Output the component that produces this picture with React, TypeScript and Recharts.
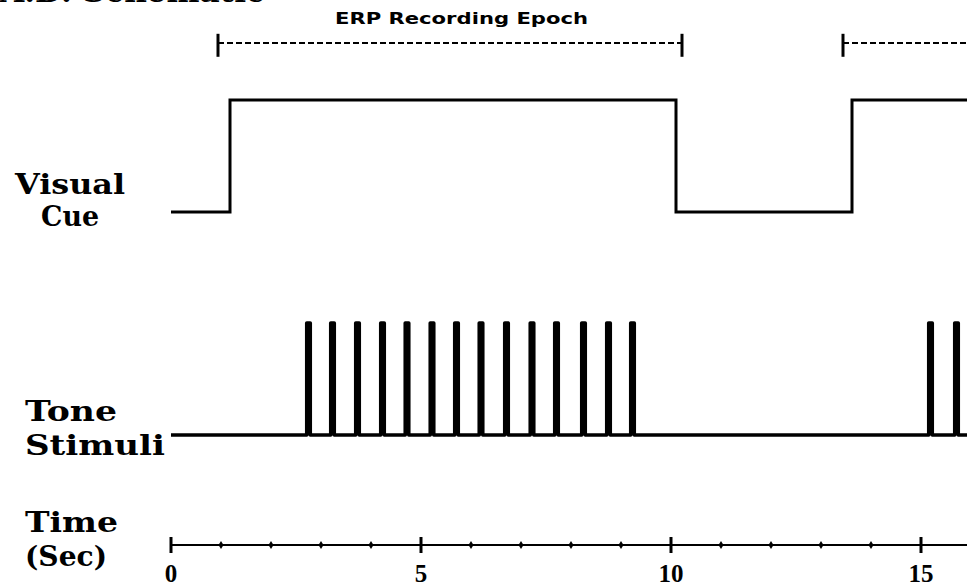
import React from 'react';
import { LineChart, Line, XAxis, YAxis, ReferenceLine, Customized } from 'recharts';

// ---- data (seconds) ----
const TIME_END = 15.92;
const timeTicks = [0, 1, 2, 3, 4, 5, 6, 7, 8, 9, 10, 11, 12, 13, 14, 15];
const labeledTicks = [0, 5, 10, 15];

// visual cue: switch times and the level it switches to
const cueSwitchTimes = [0, 1.18, 10.1, 13.62];
const cueLevels = [0, 1, 0, 1];

// tone pulse centres
const toneCenters = [
  2.75, 3.23, 3.73, 4.23, 4.72, 5.22, 5.71, 6.2, 6.71, 7.22, 7.71, 8.25, 8.75, 9.23,
  15.19, 15.71,
];

// ERP recording epochs
const epochStarts = [0.94, 13.44];
const epochEnds = [10.22, 22.72];

// text
const titleText = 'A.D. Schematic';
const epochTitle = 'ERP Recording Epoch';
const rowLabelTexts = ['Visual', 'Cue', 'Tone', 'Stimuli', 'Time', '(Sec)'];

// ---- layout ----
const W = 967;
const H = 587;
const MARGIN = { top: 0, right: 0, left: 171, bottom: 12 };
const X_AXIS_HEIGHT = 30;
const PLOT_H = H - MARGIN.top - MARGIN.bottom - X_AXIS_HEIGHT; // 545
const PULSE_WIDTH = 0.07;
const EPOCH_TICK_LOW = -0.6;
const EPOCH_TICK_HIGH = 0.4;

// domain so that value 0 sits at pixel yLow and value 1 at pixel yHigh
function rowDomain(yLow: number, yHigh: number): [number, number] {
  const k = yLow - yHigh;
  return [-(PLOT_H - yLow) / k, 1 + yHigh / k];
}

const cueData = [
  ...cueSwitchTimes.map((t, i) => ({ t, v: cueLevels[i] })),
  { t: TIME_END, v: cueLevels[cueLevels.length - 1] },
];

const toneData = [
  { t: 0, v: 0 },
  ...toneCenters.flatMap((c) => [
    { t: c - PULSE_WIDTH / 2, v: 1 },
    { t: c + PULSE_WIDTH / 2, v: 0 },
  ]),
  { t: TIME_END, v: 0 },
];

const labelStyles = [
  { x: 15, y: 194, w: 110 },
  { x: 41, y: 226, w: 58 },
  { x: 25, y: 421, w: 92 },
  { x: 25, y: 455, w: 140 },
  { x: 25, y: 532, w: 93 },
  { x: 25, y: 566, w: 82 },
];

const SERIF = '"DejaVu Serif", serif';

function TimeTick(props: any) {
  const { x, y, payload } = props;
  const v = payload.value;
  const major = labeledTicks.includes(v);
  return (
    <g>
      {major ? (
        <line x1={x} x2={x} y1={y - 8} y2={y + 8} stroke="#000" strokeWidth={3} />
      ) : (
        <polygon
          points={`${x},${y - 4} ${x + 2.5},${y} ${x},${y + 4} ${x - 2.5},${y}`}
          fill="#000"
        />
      )}
      {major && (
        <text
          x={x}
          y={y + 37}
          textAnchor="middle"
          fontFamily='"Liberation Serif", serif'
          fontWeight="bold"
          fontSize={25}
          fill="#000"
        >
          {v}
        </text>
      )}
    </g>
  );
}

function Texts() {
  return (
    <g>
      <text
        x={0}
        y={2}
        fontFamily={SERIF}
        fontWeight="bold"
        fontSize={30}
        textLength={265}
        lengthAdjust="spacingAndGlyphs"
        fill="#000"
      >
        {titleText}
      </text>
      <text
        x={335}
        y={24}
        fontFamily='"DejaVu Sans", sans-serif'
        fontWeight="bold"
        fontSize={15}
        textLength={253}
        lengthAdjust="spacingAndGlyphs"
        fill="#000"
      >
        {epochTitle}
      </text>
      {rowLabelTexts.map((s, i) => (
        <text
          key={s}
          x={labelStyles[i].x}
          y={labelStyles[i].y}
          fontFamily={SERIF}
          fontWeight="bold"
          fontSize={28}
          textLength={labelStyles[i].w}
          lengthAdjust="spacingAndGlyphs"
          fill="#000"
        >
          {s}
        </text>
      ))}
    </g>
  );
}

export default function App() {
  return (
    <div style={{ position: 'absolute', left: 0, top: 0, width: W, height: H, background: '#fff' }}>
      <LineChart width={W} height={H} margin={MARGIN}>
        <XAxis
          dataKey="t"
          type="number"
          domain={[0, TIME_END]}
          ticks={timeTicks}
          interval={0}
          allowDataOverflow
          axisLine={{ stroke: '#000', strokeWidth: 2 }}
          tickLine={false}
          tickSize={0}
          tickMargin={0}
          tick={<TimeTick />}
          height={X_AXIS_HEIGHT}
        />
        <YAxis yAxisId="cue" type="number" hide allowDataOverflow domain={rowDomain(212, 100)} />
        <YAxis yAxisId="tone" type="number" hide allowDataOverflow domain={rowDomain(435, 323)} />
        <YAxis yAxisId="epoch" type="number" hide allowDataOverflow domain={rowDomain(43, 20)} />

        {epochStarts.map((s, i) => (
          <ReferenceLine
            key={`ep-${i}`}
            yAxisId="epoch"
            segment={[{ x: s, y: 0 }, { x: epochEnds[i], y: 0 }]}
            stroke="#000"
            strokeWidth={2}
            strokeDasharray="6 3"
            ifOverflow="hidden"
          />
        ))}
        {[...epochStarts, ...epochEnds].map((t, i) => (
          <ReferenceLine
            key={`et-${i}`}
            yAxisId="epoch"
            segment={[{ x: t, y: EPOCH_TICK_LOW }, { x: t, y: EPOCH_TICK_HIGH }]}
            stroke="#000"
            strokeWidth={3}
            ifOverflow="hidden"
          />
        ))}

        <Line
          yAxisId="cue"
          data={cueData}
          dataKey="v"
          type="stepAfter"
          stroke="#000"
          strokeWidth={3}
          dot={false}
          activeDot={false}
          isAnimationActive={false}
        />
        <Line
          yAxisId="tone"
          data={toneData}
          dataKey="v"
          type="stepAfter"
          stroke="#000"
          strokeWidth={3.6}
          strokeLinejoin="round"
          dot={false}
          activeDot={false}
          isAnimationActive={false}
        />
        <Customized component={Texts} />
      </LineChart>
    </div>
  );
}
